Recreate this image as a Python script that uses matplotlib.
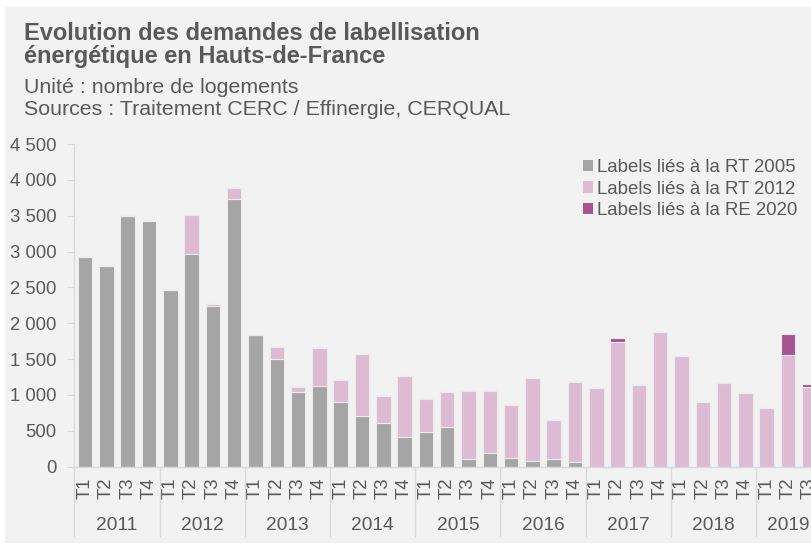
import matplotlib
matplotlib.use("Agg")
import matplotlib.pyplot as plt
from matplotlib.patches import Rectangle, Patch
import matplotlib.transforms as mtransforms

plt.rcParams['font.family'] = ['Liberation Sans', 'DejaVu Sans']

years = ['2011', '2012', '2013', '2014', '2015', '2016', '2017', '2018', '2019']
quarters = ['T1', 'T2', 'T3', 'T4'] * 8 + ['T1', 'T2', 'T3']

rt2005 = [2930, 2800, 3490, 3430,
          2460, 2960, 2240, 3730,
          1840, 1500, 1040, 1120,
          900, 705, 610, 410,
          480, 550, 105, 190,
          120, 80, 100, 60,
          0, 0, 0, 0,
          0, 0, 0, 0,
          0, 0, 0]
rt2012 = [0, 0, 0, 0,
          0, 550, 25, 150,
          0, 170, 65, 530,
          310, 865, 380, 855,
          465, 490, 955, 865,
          735, 1150, 555, 1120,
          1100, 1740, 1140, 1880,
          1540, 900, 1165, 1020,
          815, 1560, 1115]
re2020 = [0] * 25 + [50] + [0] * 7 + [290, 33]

labels = ['Labels liés à la RT 2005', 'Labels liés à la RT 2012', 'Labels liés à la RE 2020']
colors = ['#a5a5a5', '#ddbbd2', '#a5558f']
txt = '#595959'

W, H = 811, 549
fig = plt.figure(figsize=(W / 100, H / 100), dpi=100)
fig.patch.set_facecolor('white')
fig.patches.append(Rectangle((5 / W, 6 / H), 1.0, (543 - 7) / H, transform=fig.transFigure,
                             facecolor='#f2f2f2', edgecolor='none', zorder=-10))

ax = fig.add_axes([74.4 / W, 82.5 / H, 745.6 / W, 322.5 / H])
ax.set_facecolor('none')

x = list(range(len(quarters)))
bottom2 = rt2005
bottom3 = [a + b for a, b in zip(rt2005, rt2012)]
kw = dict(width=0.68, edgecolor='#ebebeb', linewidth=0.8)
ax.bar(x, rt2005, color=colors[0], **kw)
ax.bar(x, rt2012, bottom=bottom2, color=colors[1], **kw)
ax.bar(x, re2020, bottom=bottom3, color=colors[2], **kw)

ax.set_xlim(-0.5, 34.5)
ax.set_ylim(0, 4500)
ax.set_yticks(range(0, 4501, 500))
ax.set_yticklabels([f"{v:,}".replace(',', ' ') for v in range(0, 4501, 500)])
for s in ['top', 'right']:
    ax.spines[s].set_visible(False)
for s in ['left', 'bottom']:
    ax.spines[s].set_color('#d9d9d9')
    ax.spines[s].set_linewidth(1.0)
ax.tick_params(axis='y', length=5, color='#d9d9d9', labelcolor=txt, labelsize=13.3, pad=8)
ax.set_xticks(x)
ax.set_xticklabels(quarters, rotation=90)
ax.tick_params(axis='x', length=0, labelcolor=txt, labelsize=13.4, pad=8)

trans = mtransforms.blended_transform_factory(ax.transData, ax.transAxes)
for k in range(10):
    xs = -0.5 + 4 * k
    ax.plot([xs, xs], [0, -0.2155], transform=trans, color='#d9d9d9', lw=1.0, clip_on=False)
for k, yr in enumerate(years):
    n = 4 if k < 8 else 3
    cx = 4 * k + (n - 1) / 2
    ax.text(cx, -0.183, yr, transform=trans, ha='center', va='center', fontsize=13.8, color=txt)

fig.text(24 / W, 1 - 40 / H, 'Evolution des demandes de labellisation', fontsize=17, fontweight='bold',
         color=txt, va='baseline', ha='left')
fig.text(24 / W, 1 - 63 / H, 'énergétique en Hauts-de-France', fontsize=17, fontweight='bold',
         color=txt, va='baseline', ha='left')
fig.text(24 / W, 1 - 93 / H, 'Unité : nombre de logements', fontsize=15.4, color=txt, va='baseline', ha='left')
fig.text(24 / W, 1 - 115 / H, 'Sources : Traitement CERC / Effinergie, CERQUAL', fontsize=15.4, color=txt,
         va='baseline', ha='left')

handles = [Patch(facecolor=c, edgecolor='none') for c in colors]
leg = fig.legend(handles, labels, loc='upper left', bbox_to_anchor=(583 / W, 1 - 159 / H),
                 frameon=False, fontsize=13.4, handlelength=0.55, handleheight=0.55,
                 handletextpad=0.22, labelspacing=0.25, borderpad=0, borderaxespad=0)
for t in leg.get_texts():
    t.set_color(txt)

fig.savefig('out.png', dpi=100)
